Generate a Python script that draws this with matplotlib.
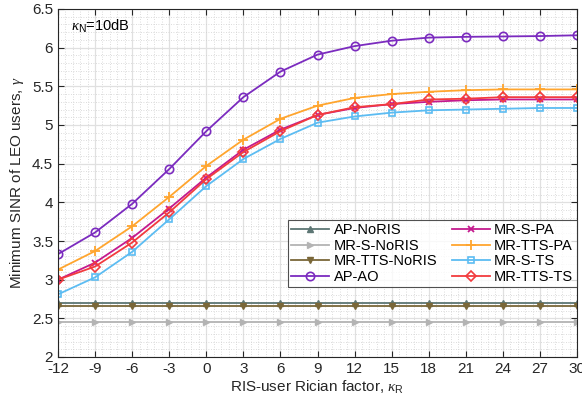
import matplotlib
matplotlib.use('Agg')
from matplotlib import pyplot as plt
from matplotlib.ticker import AutoMinorLocator

plt.rcParams['font.family'] = ['Liberation Sans', 'DejaVu Sans']
plt.rcParams['axes.unicode_minus'] = False
plt.rcParams['mathtext.fontset'] = 'custom'
plt.rcParams['mathtext.rm'] = 'Liberation Sans'
plt.rcParams['mathtext.it'] = 'Liberation Serif:italic'

kappa_r = [-12, -9, -6, -3, 0, 3, 6, 9, 12, 15, 18, 21, 24, 27, 30]

ap_noris = [2.70] * 15
mr_s_noris = [2.45] * 15
mr_tts_noris = [2.66] * 15
ap_ao = [3.33, 3.61, 3.98, 4.43, 4.92, 5.36, 5.69, 5.91, 6.02, 6.09,
         6.13, 6.14, 6.145, 6.15, 6.16]
mr_s_pa = [3.00, 3.22, 3.54, 3.92, 4.32, 4.68, 4.94, 5.13, 5.22, 5.27,
           5.30, 5.32, 5.33, 5.33, 5.33]
mr_tts_pa = [3.13, 3.37, 3.69, 4.07, 4.47, 4.81, 5.08, 5.25, 5.35, 5.40,
             5.43, 5.45, 5.46, 5.46, 5.46]
mr_s_ts = [2.81, 3.03, 3.36, 3.78, 4.21, 4.56, 4.82, 5.03, 5.11, 5.16,
           5.19, 5.20, 5.21, 5.22, 5.22]
mr_tts_ts = [3.00, 3.17, 3.48, 3.87, 4.30, 4.65, 4.92, 5.13, 5.23, 5.27,
             5.33, 5.34, 5.36, 5.36, 5.36]

fig = plt.figure(figsize=(5.82, 4.04), dpi=100)
ax = fig.add_axes([58 / 582, 1 - 357 / 404, 519 / 582, 348 / 404])

lw = 1.3
ms = 5
ax.plot(kappa_r, ap_noris, color='#5d7674', marker='^', ms=ms, lw=lw,
        markerfacecolor='#5d7674', label='AP-NoRIS')
ax.plot(kappa_r, mr_s_noris, color='#b3b3b3', marker='>', ms=ms, lw=lw,
        markerfacecolor='#b3b3b3', label='MR-S-NoRIS')
ax.plot(kappa_r, mr_tts_noris, color='#7a6738', marker='v', ms=ms, lw=lw,
        markerfacecolor='#7a6738', label='MR-TTS-NoRIS')
ax.plot(kappa_r, ap_ao, color='#7b2bbf', marker='o', ms=ms + 1, lw=lw,
        markerfacecolor='none', mew=1.2, label='AP-AO')
ax.plot(kappa_r, mr_s_pa, color='#c41a8e', marker='x', ms=ms - 1, lw=lw,
        mew=1.3, label='MR-S-PA')
ax.plot(kappa_r, mr_tts_pa, color='#ffa52e', marker='+', ms=ms + 2, lw=lw,
        mew=1.3, label='MR-TTS-PA')
ax.plot(kappa_r, mr_s_ts, color='#5cbcf2', marker='s', ms=ms, lw=lw,
        markerfacecolor='none', mew=1.2, label='MR-S-TS')
ax.plot(kappa_r, mr_tts_ts, color='#f23b3e', marker='D', ms=ms, lw=lw,
        markerfacecolor='none', mew=1.2, label='MR-TTS-TS')

ax.set_xlim(-12, 30)
ax.set_ylim(2, 6.5)
ax.set_xticks(kappa_r)
ax.set_yticks([2, 2.5, 3, 3.5, 4, 4.5, 5, 5.5, 6, 6.5])
ax.set_yticklabels(['2', '2.5', '3', '3.5', '4', '4.5', '5', '5.5', '6', '6.5'])
ax.xaxis.set_minor_locator(AutoMinorLocator(5))
ax.yaxis.set_minor_locator(AutoMinorLocator(5))
ax.grid(which='major', color='#e0e0e0', lw=0.9)
ax.grid(which='minor', color='#d0d0d0', lw=0.6, ls=(0, (1, 2)))
ax.set_axisbelow(True)
ax.tick_params(which='both', direction='in', top=True, right=True,
               labelsize=11, colors='#262626')
ax.tick_params(which='minor', length=0)
ax.tick_params(which='major', length=4)
for s in ax.spines.values():
    s.set_color('#262626')
    s.set_linewidth(0.8)

ax.set_xlabel(r'RIS-user Rician factor, $\kappa_{\mathrm{R}}$', fontsize=11,
              color='#262626', labelpad=2)
ax.set_ylabel(r'Minimum SINR of LEO users, $\gamma$', fontsize=11,
              color='#262626', labelpad=4)
ax.text(0.025, 0.975, r'$\kappa_{\mathrm{N}}$=10dB', transform=ax.transAxes,
        fontsize=10.5, va='top', ha='left')

leg = ax.legend(ncol=2, loc='lower right', bbox_to_anchor=(1.0, 0.2),
                fontsize=10.5, frameon=True, fancybox=False, edgecolor='#262626',
                borderpad=0.25, labelspacing=0.1, handlelength=2.6,
                handletextpad=0.3, columnspacing=1.0, borderaxespad=0)
leg.get_frame().set_linewidth(0.8)

fig.savefig('out.png', dpi=100)
